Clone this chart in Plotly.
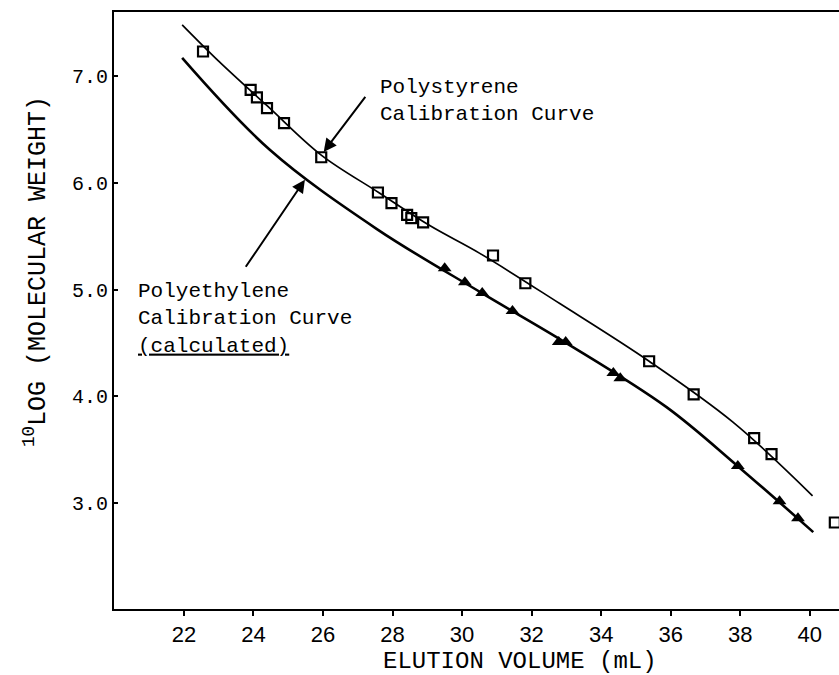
import plotly.graph_objects as go

# Polystyrene standards (squares)
ps_x = [22.55, 23.92, 24.10, 24.39, 24.88, 25.95, 27.58, 27.97, 28.42, 28.54, 28.88, 30.89, 31.82, 35.38, 36.66, 38.40, 38.90, 40.72]
ps_y = [7.23, 6.87, 6.80, 6.70, 6.56, 6.24, 5.91, 5.81, 5.70, 5.67, 5.63, 5.32, 5.06, 4.33, 4.02, 3.61, 3.46, 2.82]

# Polyethylene points (triangles)
pe_x = [29.50, 30.08, 30.58, 31.45, 32.78, 32.98, 34.35, 34.55, 37.93, 39.13, 39.66]
pe_y = [5.20, 5.07, 4.97, 4.80, 4.51, 4.51, 4.22, 4.17, 3.35, 3.02, 2.86]

# Calibration curves
ps_curve_x = [21.95, 23.00, 24.40, 25.95, 27.60, 29.07, 30.51, 32.81, 35.38, 37.79, 40.08]
ps_curve_y = [7.48, 7.14, 6.72, 6.26, 5.91, 5.60, 5.34, 4.87, 4.33, 3.76, 3.07]

pe_curve_x = [21.95, 24.47, 27.54, 30.56, 33.00, 35.88, 37.92, 40.10]
pe_curve_y = [7.17, 6.31, 5.57, 4.97, 4.50, 3.90, 3.35, 2.73]

x_ticks = [22, 24, 26, 28, 30, 32, 34, 36, 38, 40]
y_ticks = [3, 4, 5, 6, 7]
y_ticktext = ["3.0", "4.0", "5.0", "6.0", "7.0"]

MONO = "Liberation Mono, Courier New, monospace"
SANS = "Liberation Sans, Arial, sans-serif"

fig = go.Figure()
fig.add_trace(go.Scatter(x=ps_curve_x, y=ps_curve_y, mode="lines",
                         line=dict(color="black", width=1.7, shape="spline", smoothing=1.0),
                         hoverinfo="skip"))
fig.add_trace(go.Scatter(x=pe_curve_x, y=pe_curve_y, mode="lines",
                         line=dict(color="black", width=2.6, shape="spline", smoothing=1.0),
                         hoverinfo="skip"))
fig.add_trace(go.Scatter(x=ps_x, y=ps_y, mode="markers", cliponaxis=False,
                         marker=dict(symbol="square-open", size=10, color="black",
                                     line=dict(width=2.2, color="black"))))
fig.add_trace(go.Scatter(x=pe_x, y=pe_y, mode="markers",
                         marker=dict(symbol="triangle-up", size=12, color="black")))

# Plot area in pixels: left 114, right 839, top 12, bottom 609
W, H = 839, 675
L, R, T, B = 114, 0, 12, 66
pw = W - L - R
ph = H - T - B

def px2paper_x(px):
    return (px - L) / pw

def px2paper_y(py):
    return (H - B - py) / ph

annotations = [
    dict(x=27.58, y=6.77, xref="x", yref="y", xanchor="left", yanchor="middle",
         text="Polystyrene<br>Calibration Curve", showarrow=False, align="left",
         font=dict(family=MONO, size=21, color="black")),
    dict(x=20.63, y=4.73, xref="x", yref="y", xanchor="left", yanchor="middle",
         text="Polyethylene<br>Calibration Curve<br><u>(calculated)</u>", showarrow=False, align="left",
         font=dict(family=MONO, size=21, color="black")),
    # arrows
    dict(x=26.02, y=6.29, ax=27.25, ay=6.82, xref="x", yref="y", axref="x", ayref="y",
         text="", showarrow=True, arrowhead=2, arrowsize=1.3, arrowwidth=2, arrowcolor="black"),
    dict(x=25.48, y=6.03, ax=23.75, ay=5.20, xref="x", yref="y", axref="x", ayref="y",
         text="", showarrow=True, arrowhead=2, arrowsize=1.3, arrowwidth=2, arrowcolor="black"),
    # axis titles
    dict(x=px2paper_x(520), y=px2paper_y(662), xref="paper", yref="paper",
         xanchor="center", yanchor="middle", showarrow=False,
         text="ELUTION VOLUME (mL)", font=dict(family=MONO, size=24, color="black")),
    dict(x=px2paper_x(36), y=px2paper_y(272), xref="paper", yref="paper",
         xanchor="center", yanchor="middle", showarrow=False, textangle=-90,
         text="<sup>10</sup>LOG (MOLECULAR WEIGHT)", font=dict(family=MONO, size=25, color="black")),
]

fig.update_layout(
    width=W, height=H,
    margin=dict(l=L, r=R, t=T, b=B, pad=0),
    paper_bgcolor="white", plot_bgcolor="white",
    showlegend=False,
    annotations=annotations,
    xaxis=dict(range=[19.99, 40.84], tickvals=x_ticks, ticks="outside", ticklen=5, tickwidth=1.5,
               tickcolor="black", showline=True, linewidth=2, linecolor="black", mirror=True,
               showgrid=False, zeroline=False,
               tickfont=dict(family=SANS, size=22, color="black")),
    yaxis=dict(range=[2.01, 7.60], tickvals=y_ticks, ticktext=y_ticktext, ticks="inside", ticklen=4,
               tickwidth=1.5, tickcolor="black", showline=True, linewidth=2, linecolor="black",
               showgrid=False, zeroline=False,
               tickfont=dict(family=MONO, size=20, color="black")),
)

fig.write_html("out.html")
